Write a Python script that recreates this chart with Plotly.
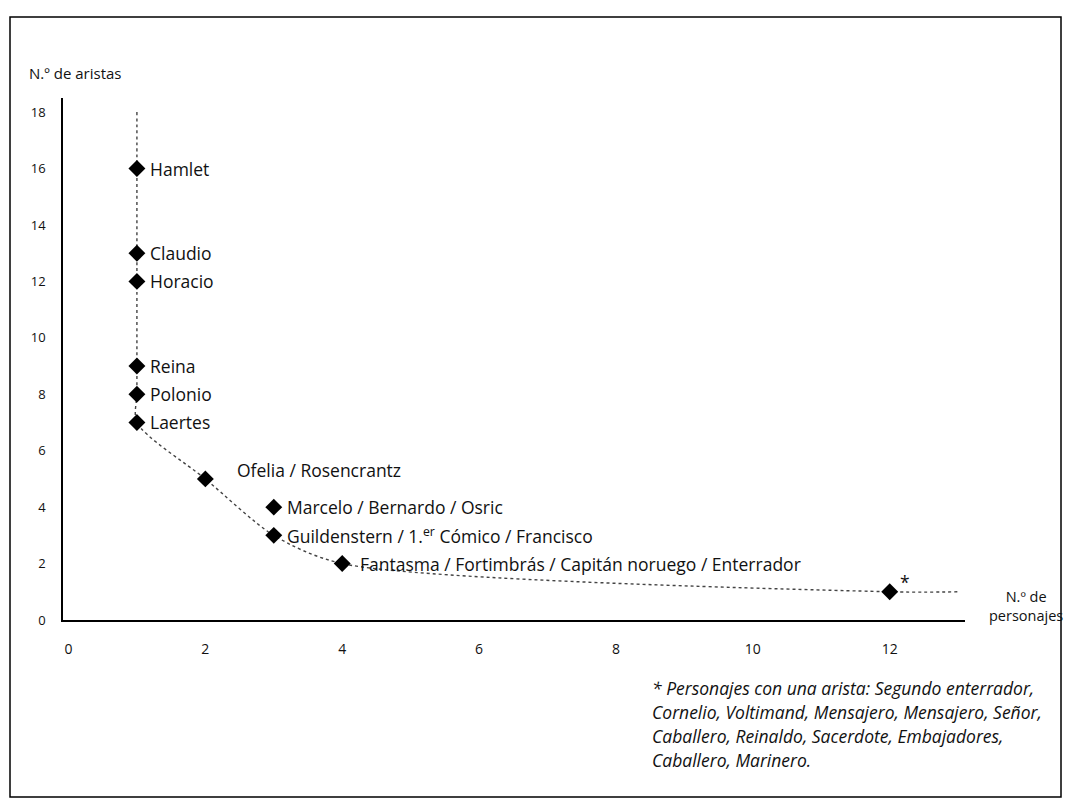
import plotly.graph_objects as go

# ---- data ----
characters = ["Hamlet", "Claudio", "Horacio", "Reina", "Polonio", "Laertes",
              "Ofelia / Rosencrantz", "Marcelo / Bernardo / Osric",
              "Guildenstern / 1.<sup>er</sup> Cómico / Francisco",
              "Fantasma / Fortimbrás / Capitán noruego / Enterrador", "*"]
n_personajes = [1, 1, 1, 1, 1, 1, 2, 3, 3, 4, 12]
n_aristas = [16, 13, 12, 9, 8, 7, 5, 4, 3, 2, 1]

# dotted trend curve (through the points, extended at both ends)
curve_x = [1, 1, 1, 1, 1, 1, 1, 2, 3, 4, 12, 13]
curve_y = [18, 16, 13, 12, 9, 8, 7, 5, 3, 2, 1, 1]

x_ticks = [0, 2, 4, 6, 8, 10, 12]
y_ticks = [0, 2, 4, 6, 8, 10, 12, 14, 16, 18]

footnote_lines = [
    "* Personajes con una arista: Segundo enterrador,",
    "Cornelio, Voltimand, Mensajero, Mensajero, Señor,",
    "Caballero, Reinaldo, Sacerdote, Embajadores,",
    "Caballero, Marinero.",
]
y_title = "N.º de aristas"
x_title = "N.º de<br>personajes"

# ---- layout geometry (pixels) ----
W, H = 1066, 806
L, R, T, B = 63, 965, 98, 620
PW, PH = R - L, B - T


def px(x):
    return (x - L) / PW


def py(y):
    return (B - y) / PH


FONT = "Open Sans"
TXT = "#111111"

fig = go.Figure()

fig.add_trace(go.Scatter(
    x=curve_x, y=curve_y, mode="lines",
    line=dict(color="#444444", width=1.4, dash="dot", shape="spline", smoothing=0.8),
    hoverinfo="skip", showlegend=False))

fig.add_trace(go.Scatter(
    x=n_personajes, y=n_aristas, mode="markers",
    marker=dict(symbol="diamond", size=13, color="black"),
    showlegend=False))

# point labels
default_shift = (11, 0)
special_shift = {6: (30, 9), 9: (16, 0), 10: (8, 10)}
annotations = []
for i, (xv, yv, name) in enumerate(zip(n_personajes, n_aristas, characters)):
    dx, dy = special_shift.get(i, default_shift)
    annotations.append(dict(
        x=xv, y=yv, xref="x", yref="y", text=name, showarrow=False,
        xanchor="left", yanchor="middle", xshift=dx, yshift=dy,
        font=dict(family=FONT, size=17.5, color=TXT)))

# axis titles
annotations.append(dict(x=px(27), y=py(73), xref="paper", yref="paper",
                        text=y_title, showarrow=False, xanchor="left", yanchor="middle",
                        font=dict(family=FONT, size=15, color=TXT)))
annotations.append(dict(x=px(1065), y=py(606), xref="paper", yref="paper",
                        text=x_title, showarrow=False, xanchor="right", yanchor="middle",
                        align="center",
                        font=dict(family=FONT, size=14.5, color=TXT)))

# footnote
for k, line in enumerate(footnote_lines):
    annotations.append(dict(x=px(650), y=py(688 + 24 * k), xref="paper", yref="paper",
                            text="<i>" + line + "</i>", showarrow=False,
                            xanchor="left", yanchor="middle", align="left",
                            font=dict(family=FONT, size=17.5, color=TXT)))

fig.update_layout(
    width=W, height=H,
    margin=dict(l=L, r=W - R, t=T, b=H - B),
    paper_bgcolor="white", plot_bgcolor="white",
    annotations=annotations,
    shapes=[dict(type="rect", xref="paper", yref="paper",
                 x0=px(10), x1=px(1061), y0=py(797), y1=py(17),
                 line=dict(color="black", width=1.5), fillcolor="rgba(0,0,0,0)")],
    xaxis=dict(range=[-0.08, 13.1], tickvals=x_ticks, showgrid=False, zeroline=False,
               showline=True, linecolor="black", linewidth=1.5, ticks="",
               ticklabelstandoff=15,
               tickfont=dict(family=FONT, size=14, color=TXT)),
    yaxis=dict(range=[0, 18.5], tickvals=y_ticks, showgrid=False, zeroline=False,
               showline=True, linecolor="black", linewidth=1.5, ticks="",
               ticklabelstandoff=13,
               tickfont=dict(family=FONT, size=13, color=TXT)),
)

fig.write_html("out.html", config={"displayModeBar": False},
               post_script="document.body.style.margin='0';document.body.style.overflow='hidden';")
